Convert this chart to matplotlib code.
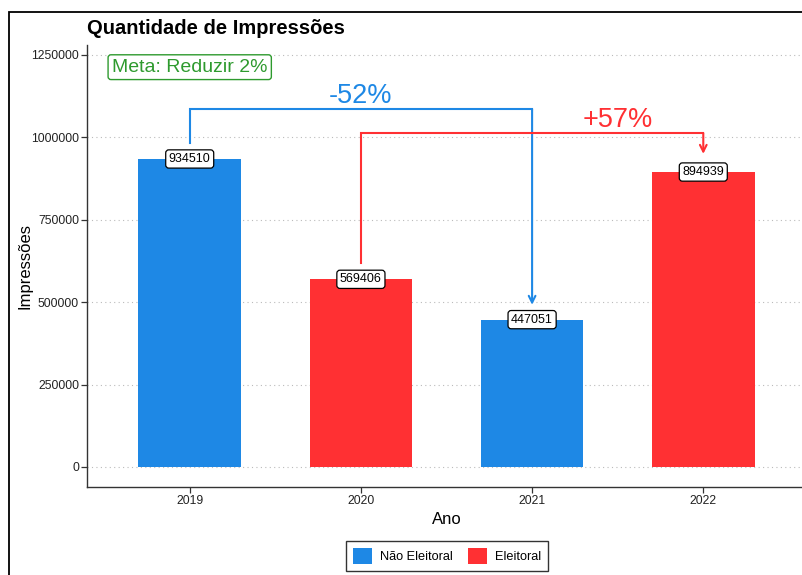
import matplotlib
matplotlib.use("Agg")
import matplotlib.pyplot as plt
import numpy as np
from matplotlib.patches import Rectangle, Patch

plt.rcParams['font.family'] = ['Liberation Sans', 'DejaVu Sans']

# ---- data ----
anos = ["2019", "2020", "2021", "2022"]
impressoes = [934510, 569406, 447051, 894939]
tipo = ["Não Eleitoral", "Eleitoral", "Não Eleitoral", "Eleitoral"]
yticks = [0, 250000, 500000, 750000, 1000000, 1250000]

cores = {"Não Eleitoral": "#1E88E5", "Eleitoral": "#FF3033"}
azul = "#1E88E5"
vermelho = "#FF3033"

W, H = 803, 575
fig = plt.figure(figsize=(W / 100, H / 100), dpi=100)

# outer panel border (extends past the crop)
fig.patches.append(Rectangle((9 / W, -0.05), 1.2, (575 - 12) / H + 0.05,
                             transform=fig.transFigure, fill=False,
                             edgecolor='black', linewidth=1.3, zorder=0))

left, right, bottom, top = 87, 806, 487, 45
ax = fig.add_axes([left / W, (H - bottom) / H, (right - left) / W, (bottom - top) / H])

x = np.arange(1, len(anos) + 1)
ax.bar(x, impressoes, width=0.6, color=[cores[t] for t in tipo], zorder=2)

ax.set_xlim(0.4, 4.6)
ax.set_ylim(-60700, 1280300)
ax.set_xticks(x)
ax.set_xticklabels(anos)
ax.set_yticks(yticks)
ax.set_yticklabels([str(v) for v in yticks])

for s in ["top", "right"]:
    ax.spines[s].set_visible(False)
for s in ["left", "bottom"]:
    ax.spines[s].set_color("#333333")
    ax.spines[s].set_linewidth(1.0)
ax.tick_params(axis='both', colors='#333333', labelcolor='#222222',
               labelsize=8.7, length=4, width=0.9, pad=1.8)
ax.yaxis.grid(True, linestyle=(0, (1, 3)), color='#bbbbbb', linewidth=0.8, zorder=0)
ax.set_axisbelow(True)

ax.set_xlabel("Ano", fontsize=12)
ax.set_ylabel("Impressões", fontsize=12)
ax.xaxis.set_label_coords(0.5, (487 - 519) / 442)
ax.xaxis.label.set_va('center')
ax.yaxis.set_label_coords((25 - 87) / 719, 0.5)
ax.yaxis.label.set_va('center')

fig.text(87 / W, 1 - 28 / H, "Quantidade de Impressões", fontsize=14.5,
         fontweight='bold', ha='left', va='center')

# value labels
for xi, v in zip(x, impressoes):
    ax.text(xi, v, str(v), ha='center', va='center', fontsize=9, zorder=5,
            bbox=dict(boxstyle='round,pad=0.25,rounding_size=0.25', fc='white',
                      ec='black', lw=0.9))

# meta label
ax.text(1, 1213000, "Meta: Reduzir 2%", ha='center', va='center', fontsize=14,
        color='#2E9A2E', zorder=5,
        bbox=dict(boxstyle='round,pad=0.2,rounding_size=0.15', fc='white',
                  ec='#2E9A2E', lw=1.0))

# brackets
def bracket(x0, x1, y0, yh, y1, color):
    ax.plot([x0, x0, x1], [y0, yh, yh], color=color, lw=1.5, zorder=4,
            solid_joinstyle='miter')
    ax.annotate('', xy=(x1, y1), xytext=(x1, yh),
                arrowprops=dict(arrowstyle='->', color=color, lw=1.5,
                                shrinkA=0, shrinkB=0, mutation_scale=12),
                zorder=4)

bracket(1, 3, 984000, 1086000, 492000, azul)
bracket(2, 4, 619000, 1013000, 950000, vermelho)

ax.text(2, 1125000, "-52%", ha='center', va='center', fontsize=19.5, color=azul)
ax.text(3.5, 1053000, "+57%", ha='center', va='center', fontsize=19.5,
        color=vermelho)

# legend
handles = [Patch(facecolor=cores["Não Eleitoral"]), Patch(facecolor=cores["Eleitoral"])]
leg = fig.legend(handles, ["Não Eleitoral", "Eleitoral"], ncol=2,
                 loc='upper left', bbox_to_anchor=(346 / W, 1 - 541 / H),
                 frameon=True, fancybox=False, edgecolor='black', fontsize=9.2,
                 handlelength=1.5, handleheight=1.5, handletextpad=0.6,
                 columnspacing=1.2, borderpad=0.55, borderaxespad=0)
leg.get_frame().set_linewidth(1.0)

fig.savefig("out.png", dpi=100)
